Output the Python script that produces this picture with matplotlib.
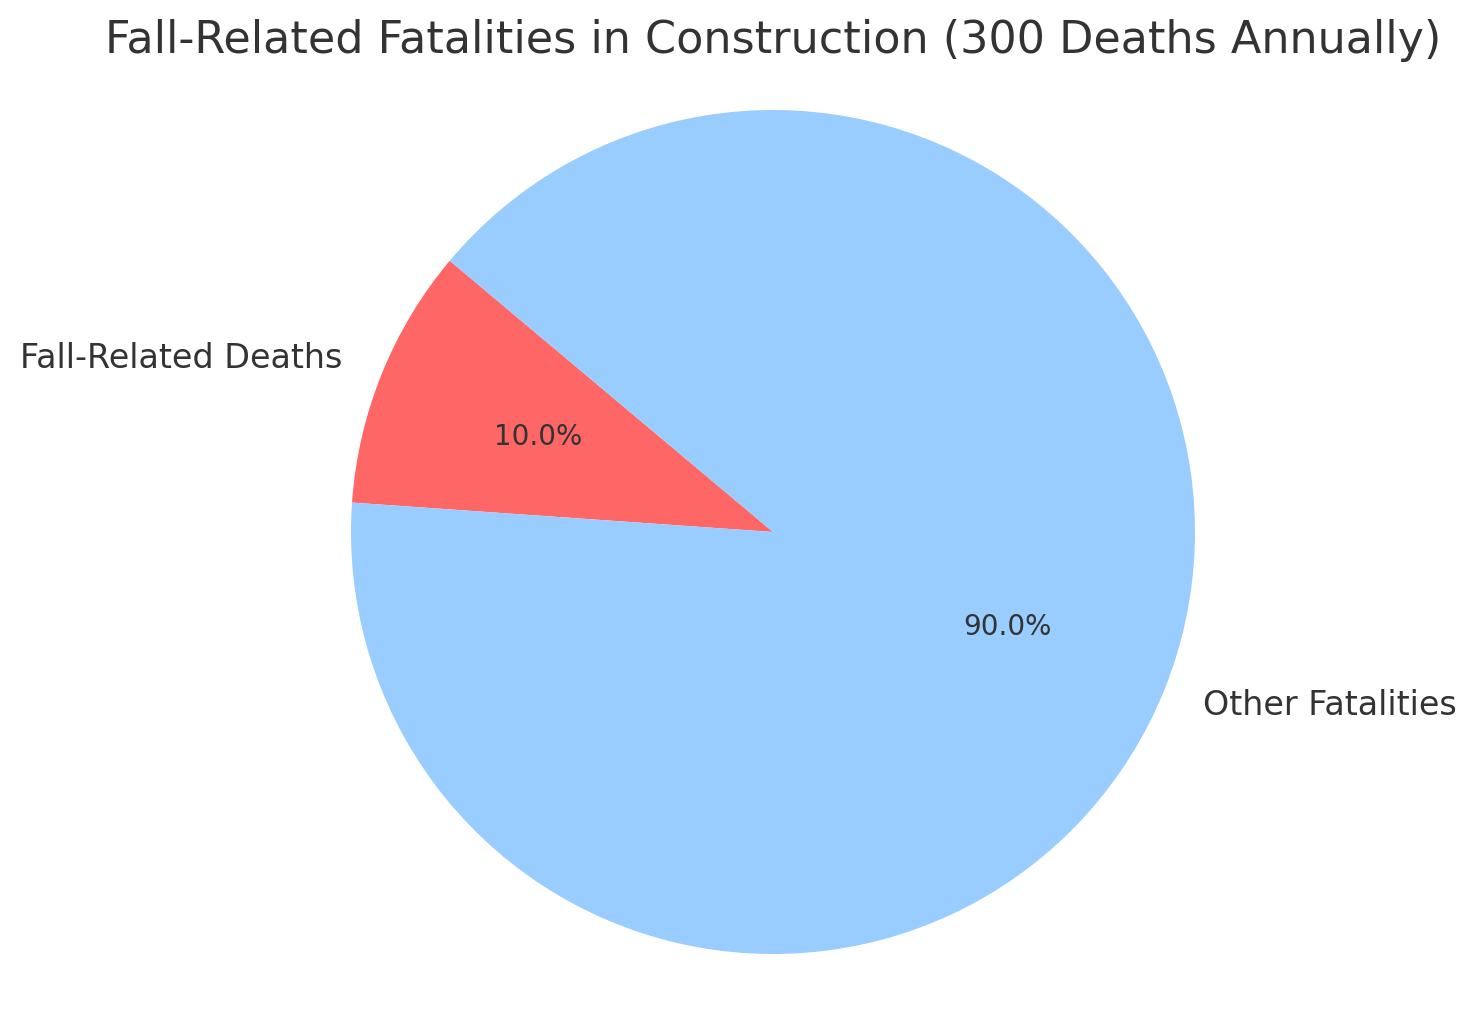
import matplotlib
matplotlib.use('Agg')
import matplotlib.pyplot as plt

# Данные
categories = ['Fall-Related Deaths', 'Other Fatalities']
shares = [10, 90]
colors = ['#ff6666', '#99ccff']
title = 'Fall-Related Fatalities in Construction (300 Deaths Annually)'

plt.rcParams['font.family'] = 'DejaVu Sans'
plt.rcParams['text.color'] = '#333333'

W, H, dpi = 1478, 1014, 200
fig = plt.figure(figsize=(W / dpi, H / dpi), dpi=dpi)

# центр круга (773, 532) px, радиус 422 px; оси pie = 2.5 радиуса
cx, cy, r = 773, H - 532, 422
side = 2.5 * r
ax = fig.add_axes([(cx - side / 2) / W, (cy - side / 2) / H, side / W, side / H])

wedges, texts, autotexts = ax.pie(shares, labels=categories, colors=colors,
                                  autopct='%1.1f%%', startangle=140,
                                  textprops={'color': '#333333'})
for t in texts:
    t.set_fontsize(12)
for t in autotexts:
    t.set_fontsize(10)
ax.set_aspect('equal')

fig.text(773 / W, 1 - 40 / H, title, ha='center', va='center',
         fontsize=16, color='#333333')

fig.savefig('out.png', dpi=dpi)
